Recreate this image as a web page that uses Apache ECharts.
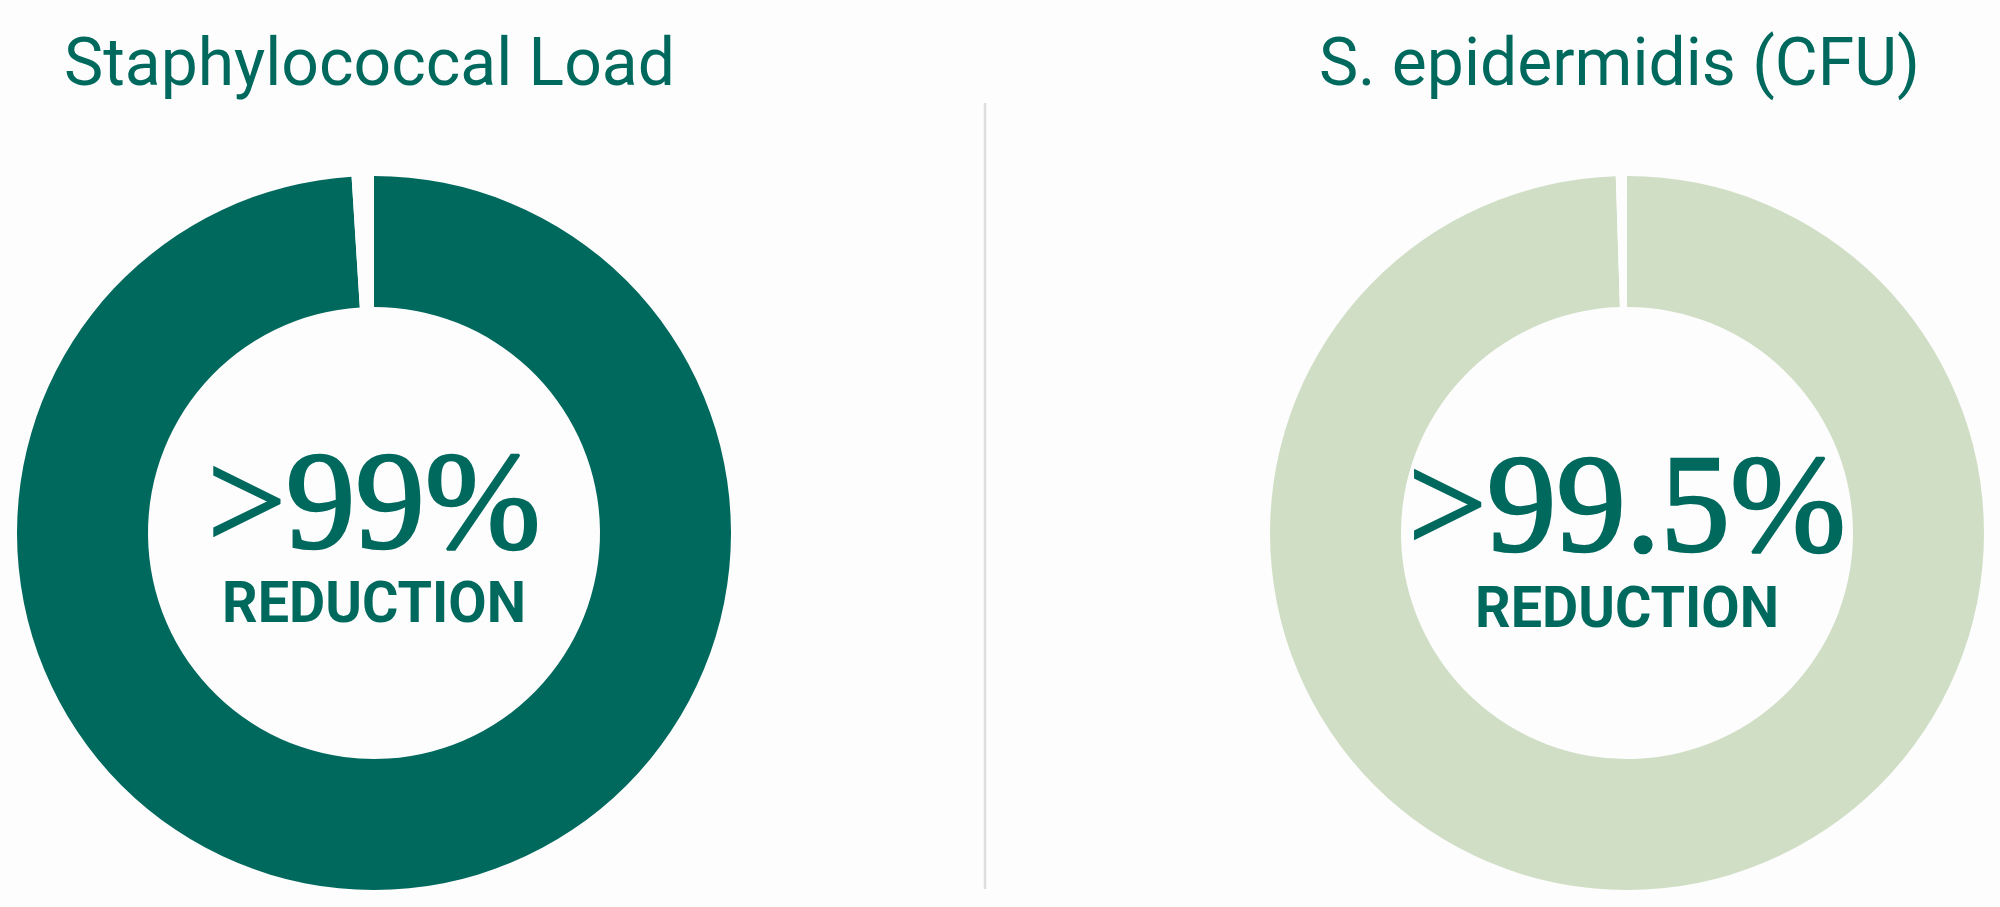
<!DOCTYPE html>
<html>
<head>
<meta charset="utf-8">
<title>Reduction donuts</title>
<script src="https://cdn.jsdelivr.net/npm/echarts@6/dist/echarts.min.js"></script>
<style>
  html, body { margin: 0; padding: 0; background: #fdfdfd; }
  #chart { width: 2000px; height: 907px; }
</style>
</head>
<body>
<div id="chart"></div>
<script>
'use strict'

// values
const titles = ['Staphylococcal Load', 'S. epidermidis (CFU)']
const reductions = [99, 99.5]
const bigLabels = ['>99%', '>99.5%']
const subLabel = 'REDUCTION'

const TEAL = '#00695e'
const SAGE = '#d0dec6'
const BG = '#fdfdfd'
const ringColors = [TEAL, SAGE]

const centers = [[374, 533], [1627, 533]]
const RADIUS = [226, 357]

const chart = echarts.init(document.getElementById('chart'))

const series = reductions.map((value, i) => ({
  type: 'pie',
  center: centers[i],
  radius: RADIUS,
  startAngle: 90,
  clockwise: true,
  silent: true,
  label: { show: false },
  labelLine: { show: false },
  emphasis: { disabled: true },
  data: [
    { name: 'reduction', value, itemStyle: { color: ringColors[i] } },
    { name: 'remaining', value: 100 - value, itemStyle: { color: BG } }
  ]
}))

// titles over each donut
const titleText = [
  { x: 64, align: 'left' },
  { x: 1920, align: 'right' }
].map((pos, i) => ({
  type: 'text',
  x: pos.x,
  y: 68,
  style: {
    text: titles[i],
    fill: TEAL,
    font: '400 66px Roboto',
    align: pos.align,
    verticalAlign: 'middle'
  }
}))

// big number + REDUCTION in each hole
const centerText = []
reductions.forEach((v, i) => {
  const [cx] = centers[i]
  centerText.push({
    type: 'text',
    x: cx,
    y: 511 + i * 3,
    style: {
      text: bigLabels[i],
      fill: TEAL,
      stroke: TEAL,
      lineWidth: 2.5,
      font: '400 139px "Liberation Serif"',
      align: 'center',
      verticalAlign: 'middle'
    }
  })
  // slightly squeezed so the letters keep their height but not their width
  centerText.push({
    type: 'text',
    x: cx,
    y: 607 + i * 5,
    scaleX: 0.96,
    style: {
      text: subLabel,
      fill: TEAL,
      font: '700 58px Roboto',
      align: 'center',
      verticalAlign: 'middle'
    }
  })
})

chart.setOption({
  backgroundColor: BG,
  animation: false,
  tooltip: { show: false },
  series,
  graphic: [
    {
      type: 'line',
      silent: true,
      shape: { x1: 985, y1: 103, x2: 985, y2: 889 },
      style: { stroke: '#dedede', lineWidth: 2.5 }
    },
    ...titleText,
    ...centerText
  ]
})
</script>
</body>
</html>
